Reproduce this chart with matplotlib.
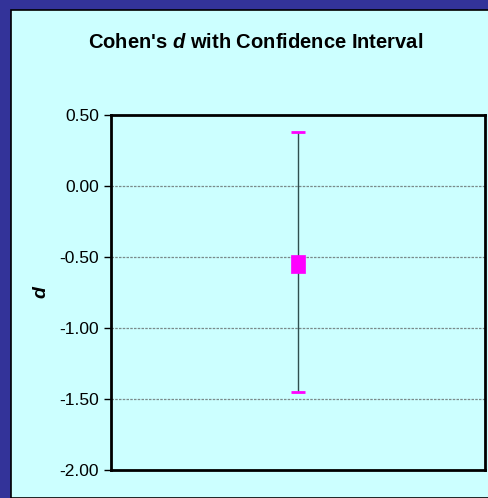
import matplotlib
matplotlib.use("Agg")
import matplotlib.pyplot as plt
from matplotlib.patches import Rectangle

plt.rcParams['font.family'] = ['Liberation Sans', 'DejaVu Sans']
plt.rcParams['mathtext.fontset'] = 'custom'
plt.rcParams['mathtext.rm'] = 'Liberation Sans'
plt.rcParams['mathtext.it'] = 'Liberation Sans:italic'
plt.rcParams['mathtext.bf'] = 'Liberation Sans:bold'
plt.rcParams['mathtext.bfit'] = 'Liberation Sans:bold:italic'

# Data
categories = ["d"]
d_values = [-0.55]
ci_lower = [-1.45]
ci_upper = [0.38]
yticks = [0.50, 0.00, -0.50, -1.00, -1.50, -2.00]
ytick_labels = ["0.50", "0.00", "-0.50", "-1.00", "-1.50", "-2.00"]

W, H = 488, 498
fig = plt.figure(figsize=(W / 100, H / 100), dpi=100)
fig.patch.set_facecolor("#333399")

# inner chart-area panel
fig.patches.append(Rectangle((11 / W, 0), 1.0, (H - 10.5) / H, transform=fig.transFigure,
                             facecolor="#CCFFFF", edgecolor="black", linewidth=1.2, zorder=-1))

ax = fig.add_axes([111 / W, (H - 470) / H, (485 - 111) / W, (470 - 115) / H])
ax.set_facecolor("#CCFFFF")

x = list(range(len(categories)))
lo_err = [d - l for d, l in zip(d_values, ci_lower)]
hi_err = [u - d for d, u in zip(d_values, ci_upper)]

ax.errorbar(x, d_values, yerr=[lo_err, hi_err], fmt="none", ecolor="#2F4F4F",
            elinewidth=1.0, capsize=0, zorder=3)
# magenta caps
ax.plot(x, ci_upper, linestyle="none", marker="_", markersize=10.5, markeredgewidth=2,
        color="#FF00FF", zorder=4)
ax.plot(x, ci_lower, linestyle="none", marker="_", markersize=10.5, markeredgewidth=2,
        color="#FF00FF", zorder=4)
rect_marker = [(-0.39, -0.5), (0.39, -0.5), (0.39, 0.5), (-0.39, 0.5), (-0.39, -0.5)]
ax.plot(x, d_values, linestyle="none", marker=rect_marker, markersize=13,
        color="#FF00FF", markeredgecolor="#FF00FF", markeredgewidth=0.5, zorder=5)

ax.set_xlim(-0.5, 0.5)
ax.set_ylim(-2.0, 0.5)
ax.set_yticks(yticks)
ax.set_yticklabels(ytick_labels, fontsize=12.5)
ax.set_xticks([])
ax.tick_params(axis="y", direction="out", length=5, width=1, pad=3.5, colors="black")
ax.yaxis.grid(True, color="#7A8A8A", linestyle=(0, (2, 1)), linewidth=0.9)
ax.set_axisbelow(True)
for s in ax.spines.values():
    s.set_linewidth(2)
    s.set_color("black")

ax.set_ylabel("d", fontsize=14, fontweight="bold", style="italic")
ax.yaxis.set_label_coords((49 - 111) / 374, 0.5)

fig.text(256 / W, 1 - 43 / H, "Cohen's $\\boldsymbol{d}$ with Confidence Interval",
         ha="center", va="center", fontsize=14.5, fontweight="bold")

fig.savefig("out.png", dpi=100, facecolor=fig.get_facecolor())
